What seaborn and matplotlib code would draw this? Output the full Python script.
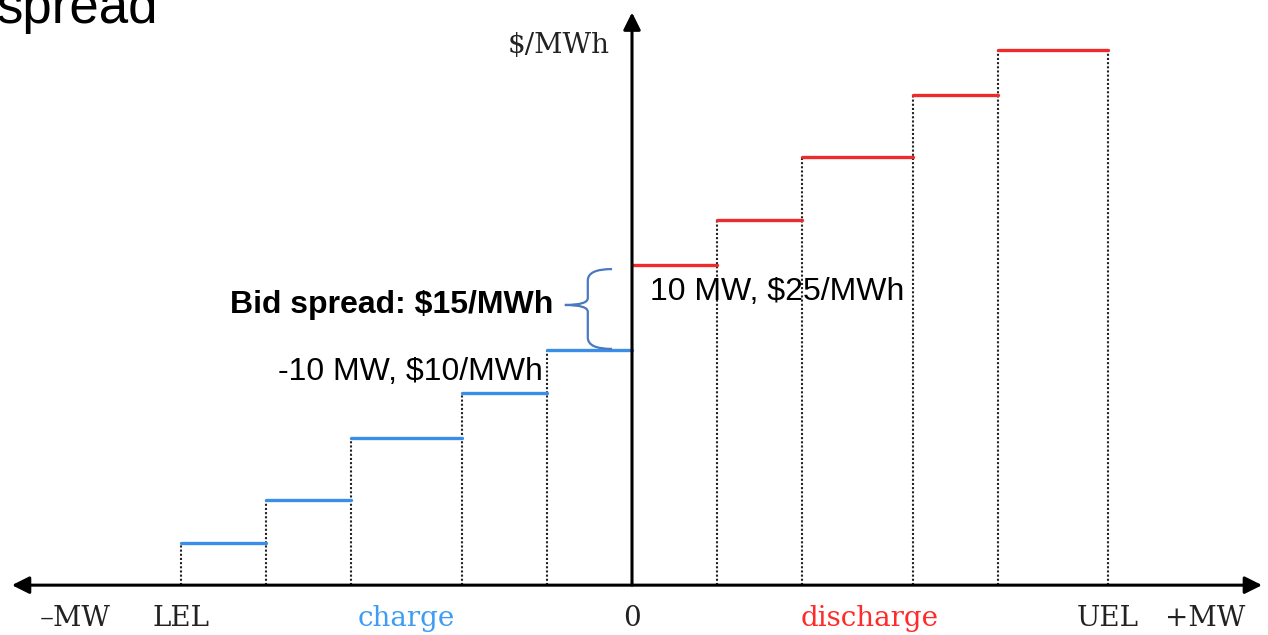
import numpy as np
import pandas as pd
import matplotlib
matplotlib.use("Agg")
import matplotlib.pyplot as plt
from matplotlib.path import Path
from matplotlib.patches import PathPatch
import seaborn as sns

# bid curve, charge side (negative MW)
charge_edges = [-53, -43, -33, -20, -10, 0]
charge_prices = [-24, -16.5, -5.5, 2.5, 10]
# offer curve, discharge side (positive MW)
discharge_edges = [0, 10, 20, 33, 43, 56]
discharge_prices = [25, 33, 44, 55, 63]

charge_note = "-10 MW, $10/MWh"
discharge_note = "10 MW, $25/MWh"
spread_note = "Bid spread: $15/MWh"
y_label = "$/MWh"

# layout (data units)
XLIM = (-74.35, 74.82)
YLIM = (-40.3, 71.8)
FLOOR = -31.5
LABEL_Y = -37.3

BLUE = "#3a8ee8"
RED = "#ee2a2a"


def steps_frame(edges, prices, side):
    rows = []
    for i, p in enumerate(prices):
        rows.append({"mw": edges[i], "price": p, "seg": f"{side}{i}", "side": side})
        rows.append({"mw": edges[i + 1], "price": p, "seg": f"{side}{i}", "side": side})
    return pd.DataFrame(rows)


steps = pd.concat([steps_frame(charge_edges, charge_prices, "charge"),
                   steps_frame(discharge_edges, discharge_prices, "discharge")],
                  ignore_index=True)

sns.set_style("white")
plt.rcParams["text.color"] = "black"
fig = plt.figure(figsize=(12.68, 6.35), dpi=100)
ax = fig.add_axes([0, 0, 1, 1])
ax.set_xlim(*XLIM)
ax.set_ylim(*YLIM)
ax.axis("off")

# dotted drop lines to the MW axis
dot = dict(ls=(0, (1, 1)), color="#222222", lw=1.5, zorder=1)
for x, p in zip(charge_edges[:-1], charge_prices):
    ax.plot([x, x], [FLOOR, p], **dot)
d_tops = [max(a, b) for a, b in zip(discharge_prices[:-1], discharge_prices[1:])] + [discharge_prices[-1]]
for x, p in zip(discharge_edges[1:], d_tops):
    ax.plot([x, x], [FLOOR, p], **dot)

sns.lineplot(data=steps, x="mw", y="price", hue="side", units="seg", estimator=None,
             sort=False, palette={"charge": BLUE, "discharge": RED}, lw=2.4,
             legend=False, ax=ax, zorder=3)

# axes with arrow heads
ax.annotate("", xy=(XLIM[0] + 1.4, FLOOR), xytext=(XLIM[1] - 0.7, FLOOR),
            arrowprops=dict(arrowstyle="<|-|>", color="black", lw=2.2,
                            mutation_scale=26, shrinkA=0, shrinkB=0), zorder=4)
ax.annotate("", xy=(0, YLIM[1] - 2.2), xytext=(0, FLOOR),
            arrowprops=dict(arrowstyle="-|>", color="black", lw=2.2,
                            mutation_scale=26, shrinkA=0, shrinkB=0), zorder=4)

serif = dict(family="DejaVu Serif", fontsize=20, va="center", ha="center")
ink = "#222222"
ax.text(-2.6, 63.7, y_label, color=ink, **{**serif, "ha": "right"})
ax.text(-65.5, LABEL_Y, "\u2013MW", color=ink, **serif)
ax.text(charge_edges[0], LABEL_Y, "LEL", color=ink, **serif)
ax.text(np.mean([charge_edges[0], charge_edges[-1]]), LABEL_Y, "charge", color="#3d9cf5", **serif)
ax.text(0, LABEL_Y, "0", color=ink, **serif)
ax.text(np.mean([discharge_edges[0], discharge_edges[-1]]), LABEL_Y, "discharge", color="#ff2a2a", **serif)
ax.text(discharge_edges[-1], LABEL_Y, "UEL", color=ink, **serif)
ax.text(67.4, LABEL_Y, "+MW", color=ink, **serif)

sans = dict(family="Liberation Sans", fontsize=23, va="center", color="black")
ax.text(2.1, 20.25, discharge_note, ha="left", **sans)
ax.text(-10.5, 6.1, charge_note, ha="right", **sans)
tip = 17.96
ax.text(-9.3, tip, spread_note, ha="right", fontweight="bold", **sans)

# curly brace spanning the bid spread
lo, hi = charge_prices[-1] + 0.2, discharge_prices[0] - 0.7
xr, xs, xt = -2.35, -5.2, -7.9
verts = [(xr, hi), (xs, hi), (xs, hi - 2),
         (xs, tip + 1.2), (xs, tip), (xt, tip),
         (xs, tip), (xs, tip - 1.2),
         (xs, lo + 2), (xs, lo), (xr, lo)]
codes = [Path.MOVETO, Path.CURVE3, Path.CURVE3,
         Path.LINETO, Path.CURVE3, Path.CURVE3,
         Path.CURVE3, Path.CURVE3,
         Path.LINETO, Path.CURVE3, Path.CURVE3]
ax.add_patch(PathPatch(Path(verts, codes), fill=False, edgecolor="#4a78c2", lw=1.6, zorder=5))

# heading cropped by the top edge, as in the source slide
ax.text(158 / 1268, 1 - 23 / 635, "spread", transform=ax.transAxes, ha="right",
        va="baseline", family="Liberation Sans", fontsize=38, color="black")

fig.savefig("out.png", dpi=100)
